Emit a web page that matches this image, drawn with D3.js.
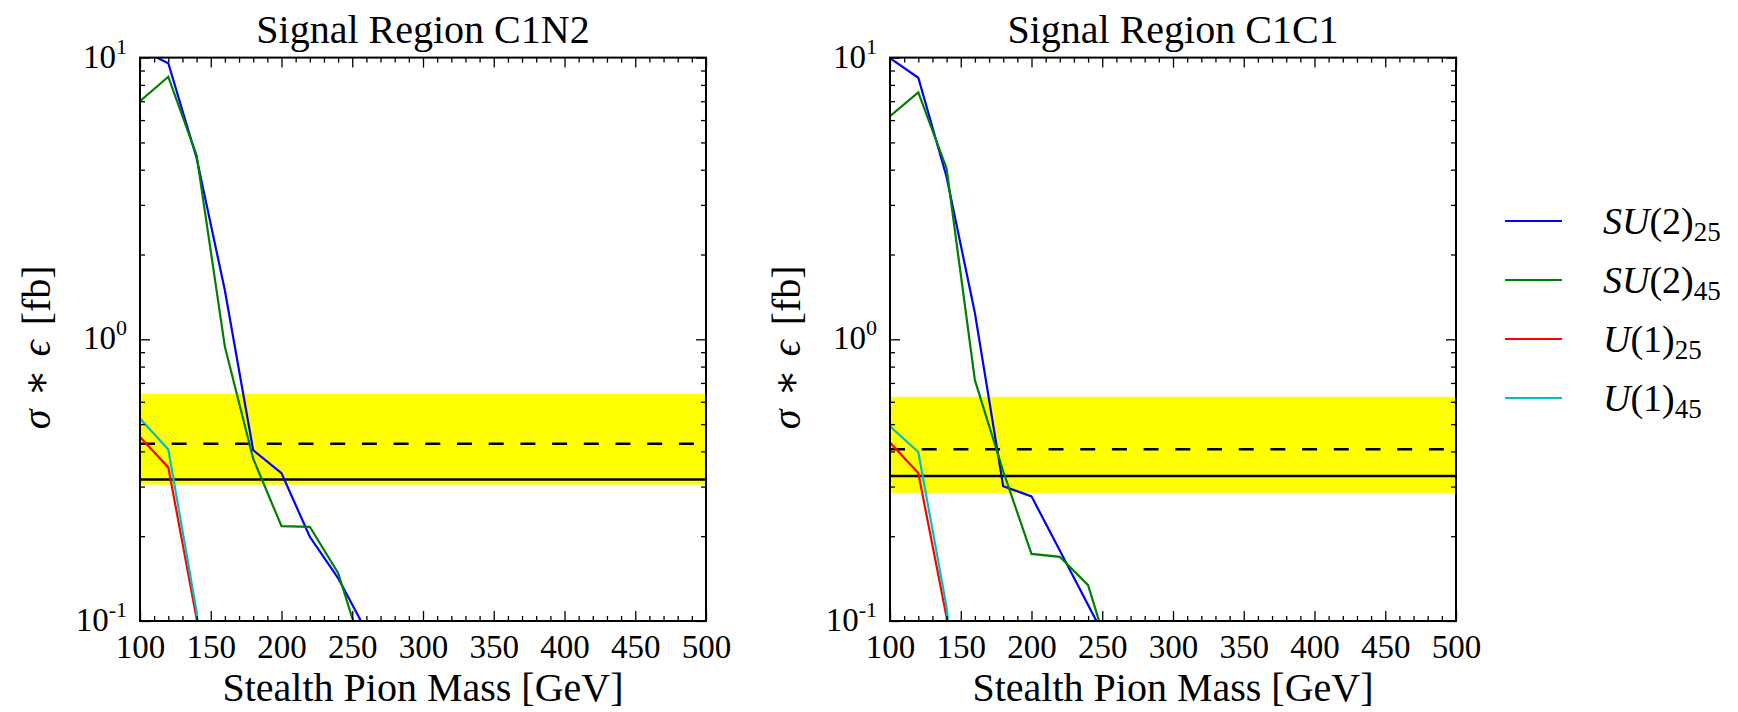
<!DOCTYPE html>
<html>
<head>
<meta charset="utf-8">
<script src="https://cdn.jsdelivr.net/npm/d3@7"></script>
<style>
  html, body { margin: 0; padding: 0; background: #fff; }
  svg { display: block; }
  text { font-family: "Liberation Serif", "DejaVu Serif", serif; fill: #000; }
</style>
</head>
<body>
<svg id="fig" width="1738" height="712"></svg>
<script>
// Stealth pion mass grid [GeV]
const mass = [100, 120, 140, 160, 180, 200, 220, 240, 260];

// Signal region C1N2: sigma * efficiency [fb]
const c1n2_su2_25 = [10.7, 9.55, 4.4, 1.49, 0.404, 0.335, 0.199, 0.142, 0.092];
const c1n2_su2_45 = [7.0, 8.55, 4.5, 0.94, 0.377, 0.217, 0.216, 0.148, 0.071];
const c1n2_u1_25  = [0.45, 0.351, 0.102, 0.01];
const c1n2_u1_45  = [0.523, 0.406, 0.108, 0.01];
// expected limit band, expected and observed limits
const c1n2_band = [0.305, 0.641];
const c1n2_expected = 0.426;
const c1n2_observed = 0.318;

// Signal region C1C1
const c1c1_su2_25 = [9.95, 8.48, 3.77, 1.24, 0.301, 0.277, 0.178, 0.114, 0.073];
const c1c1_su2_45 = [6.2, 7.53, 4.04, 0.716, 0.34, 0.173, 0.169, 0.134, 0.063];
const c1c1_u1_25  = [0.43, 0.335, 0.103, 0.01];
const c1c1_u1_45  = [0.491, 0.398, 0.112, 0.01];
const c1c1_band = [0.285, 0.625];
const c1c1_expected = 0.407;
const c1c1_observed = 0.327;

const panelTitles = ["Signal Region C1N2", "Signal Region C1C1"];
const xTicks = [100, 150, 200, 250, 300, 350, 400, 450, 500];
const yTicks = [0.1, 1, 10];
const yTickExponents = ["-1", "0", "1"];

const seriesNames = ["SU(2)", "SU(2)", "U(1)", "U(1)"];
const seriesSubs = ["25", "45", "25", "45"];
const seriesColors = ["#0000ff", "#008000", "#ff0000", "#00bfbf"];

const panels = [
  { title: panelTitles[0], series: [c1n2_su2_25, c1n2_su2_45, c1n2_u1_25, c1n2_u1_45],
    band: c1n2_band, expected: c1n2_expected, observed: c1n2_observed, left: 140 },
  { title: panelTitles[1], series: [c1c1_su2_25, c1c1_su2_45, c1c1_u1_25, c1c1_u1_45],
    band: c1c1_band, expected: c1c1_expected, observed: c1c1_observed, left: 890 }
];

const svg = d3.select("#fig");
const plotW = 566, plotTop = 57.6, plotBottom = 621;

panels.forEach((p, pi) => {
  const x = d3.scaleLinear().domain([100, 500]).range([p.left, p.left + plotW]);
  const y = d3.scaleLog().domain([0.1, 10]).range([plotBottom, plotTop]);
  const g = svg.append("g");

  const clipId = "clip" + pi;
  g.append("clipPath").attr("id", clipId).append("rect")
    .attr("x", x(100)).attr("y", plotTop).attr("width", plotW).attr("height", plotBottom - plotTop);
  const body = g.append("g").attr("clip-path", `url(#${clipId})`);

  // yellow band
  body.append("rect")
    .attr("x", x(100)).attr("width", plotW)
    .attr("y", y(p.band[1])).attr("height", y(p.band[0]) - y(p.band[1]))
    .attr("fill", "#ffff00");

  // expected (dashed) and observed (solid) limits
  body.append("line")
    .attr("x1", x(100)).attr("x2", x(500))
    .attr("y1", y(p.expected)).attr("y2", y(p.expected))
    .attr("stroke", "#000").attr("stroke-width", 2.4).attr("stroke-dasharray", "15,16.7");
  body.append("line")
    .attr("x1", x(100)).attr("x2", x(500))
    .attr("y1", y(p.observed)).attr("y2", y(p.observed))
    .attr("stroke", "#000").attr("stroke-width", 2.4);

  const line = d3.line().x(d => x(d[0])).y(d => y(d[1]));
  p.series.forEach((vals, si) => {
    const pts = vals.map((v, i) => [mass[i], v]);
    body.append("path").datum(pts)
      .attr("d", line).attr("fill", "none")
      .attr("stroke", seriesColors[si]).attr("stroke-width", 2.2)
      .attr("stroke-linejoin", "miter");
  });

  // axes with inward ticks on all four sides
  const minorX = d3.range(100, 501, 10).filter(v => v % 50 !== 0);
  const minorY = [];
  [0.1, 1].forEach(dec => { for (let k = 2; k <= 9; k++) minorY.push(dec * k); });

  const xBottom = d3.axisBottom(x).tickValues(xTicks).tickSize(-10).tickFormat(d3.format("d")).tickPadding(14);
  const xTopAx = d3.axisTop(x).tickValues(xTicks).tickSize(-10).tickFormat("");
  const xBottomMinor = d3.axisBottom(x).tickValues(minorX).tickSize(-5).tickFormat("");
  const xTopMinor = d3.axisTop(x).tickValues(minorX).tickSize(-5).tickFormat("");
  const yLeft = d3.axisLeft(y).tickValues(yTicks).tickSize(-10).tickFormat("");
  const yRight = d3.axisRight(y).tickValues(yTicks).tickSize(-10).tickFormat("");
  const yLeftMinor = d3.axisLeft(y).tickValues(minorY).tickSize(-5).tickFormat("");
  const yRightMinor = d3.axisRight(y).tickValues(minorY).tickSize(-5).tickFormat("");

  const axes = [
    [xBottom, `translate(0,${plotBottom})`], [xBottomMinor, `translate(0,${plotBottom})`],
    [xTopAx, `translate(0,${plotTop})`], [xTopMinor, `translate(0,${plotTop})`],
    [yLeft, `translate(${x(100)},0)`], [yLeftMinor, `translate(${x(100)},0)`],
    [yRight, `translate(${x(500)},0)`], [yRightMinor, `translate(${x(500)},0)`]
  ];
  axes.forEach(([ax, tr]) => {
    const a = g.append("g").attr("transform", tr).call(ax);
    a.select(".domain").remove();
    a.selectAll(".tick line").attr("stroke", "#000").attr("stroke-width", 1.3);
    a.selectAll(".tick text").attr("font-size", 33)
      .attr("font-family", "Liberation Serif, DejaVu Serif, serif").attr("fill", "#000");
  });

  // y tick labels as powers of ten
  yTicks.forEach((t, i) => {
    const txt = g.append("text")
      .attr("x", x(100) - 13).attr("y", y(t) + 10)
      .attr("text-anchor", "end").attr("font-size", 33);
    txt.append("tspan").text("10");
    txt.append("tspan").attr("font-size", 22).attr("dy", -14).text(yTickExponents[i]);
  });

  // frame
  g.append("rect")
    .attr("x", x(100)).attr("y", plotTop).attr("width", plotW).attr("height", plotBottom - plotTop)
    .attr("fill", "none").attr("stroke", "#000").attr("stroke-width", 2);

  // title and axis labels
  g.append("text").attr("x", x(300)).attr("y", 43)
    .attr("text-anchor", "middle").attr("font-size", 40).text(p.title);
  g.append("text").attr("x", x(300)).attr("y", 701)
    .attr("text-anchor", "middle").attr("font-size", 40).text("Stealth Pion Mass [GeV]");
  const yl = g.append("text")
    .attr("transform", `translate(${p.left - 90},${(plotTop + plotBottom) / 2 + 8}) rotate(-90)`)
    .attr("text-anchor", "middle").attr("font-size", 40);
  yl.append("tspan").attr("font-style", "italic").text("σ");
  yl.append("tspan").attr("dx", 13).text("∗");
  yl.append("tspan").attr("dx", 13).attr("font-style", "italic").text("ϵ");
  yl.append("tspan").attr("dx", 15).text("[fb]");
});

// legend
const legend = svg.append("g");
seriesNames.forEach((name, i) => {
  const cy = 221 + i * 59;
  legend.append("line")
    .attr("x1", 1505).attr("x2", 1562).attr("y1", cy).attr("y2", cy)
    .attr("stroke", seriesColors[i]).attr("stroke-width", 2.2);
  const t = legend.append("text").attr("x", 1603).attr("y", cy + 13).attr("font-size", 38);
  const parts = name.match(/^([A-Z]+)(\(\d\))$/);
  t.append("tspan").attr("font-style", "italic").text(parts[1]);
  t.append("tspan").text(parts[2]);
  t.append("tspan").attr("font-size", 27).attr("dy", 7).text(seriesSubs[i]);
});
</script>
</body>
</html>
